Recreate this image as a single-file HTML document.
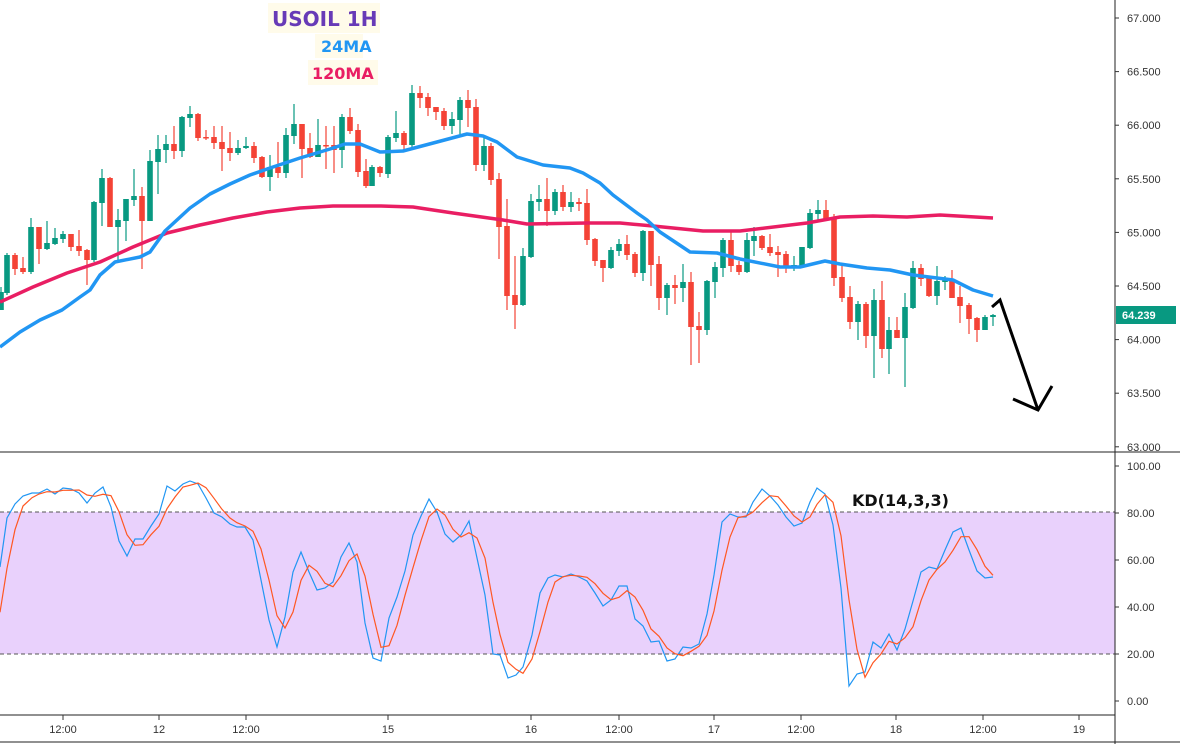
<!DOCTYPE html>
<html><head><meta charset="utf-8"><style>
body{margin:0;background:#fff;width:1180px;height:744px;overflow:hidden;font-family:"Liberation Sans",sans-serif}
svg{display:block}
</style></head><body>
<svg id="s" width="1180" height="744" xmlns="http://www.w3.org/2000/svg" font-family="Liberation Sans, sans-serif">
<rect x="0" y="512" width="1115" height="142" fill="#e9d1fc"/>
<line x1="0" y1="512" x2="1115" y2="512" stroke="#555" stroke-dasharray="4,3"/>
<line x1="0" y1="654" x2="1115" y2="654" stroke="#555" stroke-dasharray="4,3"/>
<g id="c"></g>
<polyline fill="none" stroke="#e91e63" stroke-width="3.5" stroke-linejoin="round" points="0,302 33,287 67,273 100,262 133,247 167,233 200,225 233,218 267,212 300,208 333,206 380,206 413,207 453,213 503,220 527,224 587,223 620,223 653,226 703,231 740,231 807,223 840,217 873,216 907,217 940,215 993,218"/>
<polyline fill="none" stroke="#2196f3" stroke-width="3.5" stroke-linejoin="round" points="0,347 20,332 40,320 62,310 80,297 90,290 100,275 115,262 140,257 150,252 165,231 190,208 210,194 230,184 250,175 270,168 300,158 330,149 345,144 360,144 370,148 380,152 403,151 437,142 467,134 483,136 497,142 517,157 543,165 570,168 583,173 600,183 613,195 637,213 647,220 660,232 690,252 717,253 740,259 780,267 800,267 825,261 840,264 867,268 890,270 913,275 953,280 973,290 993,296"/>
<polyline id="k" fill="none" stroke="#2196f3" stroke-width="1.2"/>
<polyline id="d" fill="none" stroke="#ff5722" stroke-width="1.2"/>
<polyline fill="none" stroke="#000" stroke-width="3" points="992,307 1000,300 1038,410"/>
<polyline fill="none" stroke="#000" stroke-width="3" points="1013,399 1038,410 1052,386"/>
<rect x="268" y="3" width="112" height="30" fill="#fffbea"/>
<rect x="315" y="34" width="48" height="24" fill="#fffbea"/>
<rect x="308" y="60" width="70" height="25" fill="#fffbea"/>
<text x="272" y="26" font-family="DejaVu Sans, sans-serif" font-size="20" font-weight="bold" fill="#673ab7">USOIL 1H</text>
<text x="321" y="52" font-family="DejaVu Sans, sans-serif" font-size="16" font-weight="bold" fill="#2196f3">24MA</text>
<text x="312" y="79" font-family="DejaVu Sans, sans-serif" font-size="16" font-weight="bold" fill="#e91e63">120MA</text>
<text x="852" y="506" font-family="DejaVu Sans, sans-serif" font-size="16" font-weight="bold" fill="#111">KD(14,3,3)</text>
<line x1="1115" y1="0" x2="1115" y2="744" stroke="#222"/>
<line x1="0" y1="452" x2="1180" y2="452" stroke="#222"/>
<line x1="0" y1="715" x2="1115" y2="715" stroke="#222"/>
<line x1="0" y1="742" x2="1180" y2="742" stroke="#222"/>
<g id="ax" font-size="11" fill="#333"></g>
<rect x="1116" y="306" width="60" height="18" fill="#089981"/>
<text x="1122" y="319" font-size="11" font-weight="bold" fill="#fff">64.239</text>
</svg>
<script>
var C=[[1,292,310,287,310,'g'],[7,255,293,253,295,'g'],[15,255,269,253,275,'r'],[23,268,272,257,274,'r'],[31,227,272,218,274,'g'],[39,227,249,227,264,'r'],[47,243,249,221,250,'g'],[55,238,244,228,245,'g'],[63,234,239,231,243,'g'],[71,234,247,234,251,'r'],[79,246,251,230,256,'r'],[87,250,260,249,285,'r'],[94,202,260,201,262,'g'],[102,178,203,169,226,'g'],[110,178,227,177,227,'r'],[118,220,227,209,261,'g'],[126,199,221,199,241,'g'],[134,196,200,169,206,'g'],[142,196,221,187,269,'r'],[150,161,221,150,221,'g'],[158,149,162,135,194,'g'],[166,144,150,135,163,'g'],[174,144,151,126,159,'r'],[182,117,151,116,157,'g'],[190,114,118,106,127,'g'],[198,114,138,113,141,'r'],[206,137,138,130,140,'r'],[214,137,143,126,149,'r'],[222,142,149,126,171,'r'],[230,148,153,132,161,'r'],[238,148,153,140,155,'g'],[246,146,148,137,149,'g'],[254,146,158,142,163,'r'],[262,157,177,156,178,'r'],[270,167,177,155,191,'g'],[278,167,173,142,178,'r'],[286,135,173,128,178,'g'],[294,124,136,104,144,'g'],[302,124,149,124,178,'r'],[310,148,157,133,158,'r'],[318,145,157,119,157,'g'],[326,145,146,126,169,'r'],[334,145,150,126,173,'r'],[342,117,150,114,168,'g'],[350,117,131,108,134,'r'],[358,130,172,124,177,'r'],[366,171,186,159,188,'r'],[372,167,186,165,186,'g'],[380,167,173,166,177,'r'],[388,137,174,135,178,'g'],[396,133,138,111,142,'g'],[404,133,145,131,150,'r'],[412,93,145,85,147,'g'],[420,93,98,86,108,'r'],[428,97,108,93,116,'r'],[436,107,112,107,120,'r'],[444,111,126,108,130,'r'],[452,119,126,112,134,'g'],[460,100,120,97,135,'g'],[468,100,108,90,127,'r'],[476,107,165,99,171,'r'],[484,146,165,135,171,'g'],[491,146,180,143,185,'r'],[499,179,227,173,259,'r'],[507,226,296,199,310,'r'],[515,295,305,256,329,'r'],[523,256,305,248,306,'g'],[531,201,257,194,258,'g'],[539,199,202,185,211,'g'],[547,199,211,178,226,'r'],[555,192,211,189,215,'g'],[563,192,207,185,211,'r'],[571,202,207,192,212,'g'],[579,202,204,198,211,'r'],[587,203,240,189,245,'r'],[595,239,261,238,266,'r'],[603,260,268,260,282,'r'],[611,250,268,247,269,'g'],[619,244,251,239,256,'g'],[627,244,255,235,260,'r'],[635,254,273,252,277,'r'],[643,231,273,230,281,'g'],[651,231,265,231,286,'r'],[659,264,298,256,310,'r'],[667,285,298,283,315,'g'],[675,285,288,275,304,'r'],[683,282,288,264,302,'g'],[691,282,327,272,365,'r'],[699,326,330,312,363,'r'],[707,281,330,280,335,'g'],[715,267,282,262,298,'g'],[723,240,268,238,277,'g'],[731,240,266,230,272,'r'],[739,265,272,261,275,'r'],[747,240,272,233,273,'g'],[754,236,241,227,256,'g'],[762,236,248,235,250,'r'],[770,247,253,234,256,'r'],[778,252,255,246,277,'r'],[786,254,268,251,273,'r'],[794,265,268,256,271,'g'],[802,247,266,247,268,'g'],[810,213,248,209,249,'g'],[818,210,214,200,221,'g'],[826,210,219,200,221,'r'],[834,218,278,214,286,'r'],[842,277,298,263,302,'r'],[850,297,322,286,329,'r'],[858,304,322,301,340,'g'],[866,304,336,302,348,'r'],[874,300,336,289,378,'g'],[882,300,349,281,358,'r'],[889,330,349,317,374,'g'],[897,330,338,317,338,'r'],[905,307,338,293,387,'g'],[913,268,308,261,309,'g'],[921,268,279,264,286,'r'],[929,278,296,276,297,'r'],[937,281,296,266,305,'g'],[945,280,282,276,290,'g'],[952,281,298,270,298,'r'],[960,297,306,286,323,'r'],[969,305,319,303,334,'r'],[977,318,330,317,342,'r'],[985,317,330,315,330,'g'],[993,315,317,314,326,'g']];
var h='';C.forEach(function(c){var col=c[5]=='g'?'#089981':'#f44336';h+='<line x1="'+c[0]+'" y1="'+c[3]+'" x2="'+c[0]+'" y2="'+c[4]+'" stroke="'+col+'" stroke-width="1.2"/><rect x="'+(c[0]-2.8)+'" y="'+c[1]+'" width="5.6" height="'+Math.max(1.5,c[2]-c[1])+'" fill="'+col+'"/>';});
document.getElementById('c').innerHTML=h;
var K=[[0,567],[7,518],[15,504],[23,496],[32,493],[39,493],[47,489],[55,494],[63,488],[71,489],[79,493],[87,503],[95,493],[103,487],[111,507],[119,541],[127,556],[135,539],[143,539],[151,526],[159,514],[167,486],[175,491],[183,484],[190,481],[198,484],[206,498],[214,513],[222,517],[230,524],[237,527],[245,527],[253,540],[261,580],[269,620],[277,647],[285,617],[293,572],[301,552],[309,572],[317,590],[325,588],[333,582],[341,557],[349,543],[357,562],[365,623],[373,658],[381,661],[389,618],[397,597],[405,571],[413,535],[421,516],[429,499],[437,512],[445,534],[453,542],[461,535],[469,521],[477,558],[485,595],[493,654],[500,655],[508,678],[516,675],[523,667],[532,635],[540,593],[548,578],[555,575],[563,577],[571,574],[579,577],[587,581],[595,593],[603,606],[611,600],[619,586],[627,586],[635,619],[643,626],[651,642],[659,641],[667,661],[675,659],[683,647],[691,648],[699,644],[707,614],[714,575],[722,522],[730,514],[738,517],[746,517],[753,502],[762,489],[770,496],[778,505],[786,517],[794,526],[802,523],[810,502],[817,488],[825,494],[833,525],[841,588],[849,686],[857,674],[865,672],[873,642],[881,648],[889,634],[897,650],[905,629],[913,601],[921,572],[929,567],[937,569],[945,550],[953,532],[961,528],[969,550],[977,571],[985,578],[993,577]];
document.getElementById('k').setAttribute('points',K.map(function(p){return p.join(',')}).join(' '));
var D=[];for(var i=0;i<K.length;i++){var a=K[Math.max(0,i-1)][1],b=K[Math.max(0,i-2)][1];if(i==0){a=620;b=650}if(i==1){b=620}D.push(K[i][0]+','+((K[i][1]+a+b)/3).toFixed(1));}
document.getElementById('d').setAttribute('points',D.join(' '));
var ax='';
[[67,'67.000'],[66.5,'66.500'],[66,'66.000'],[65.5,'65.500'],[65,'65.000'],[64.5,'64.500'],[64,'64.000'],[63.5,'63.500'],[63,'63.000']].forEach(function(p){var y=18+(67-p[0])*107.2;ax+='<line x1="1115" y1="'+y+'" x2="1119" y2="'+y+'" stroke="#333"/><text x="1127" y="'+(y+4)+'">'+p[1]+'</text>';});
[[100,'100.00'],[80,'80.00'],[60,'60.00'],[40,'40.00'],[20,'20.00'],[0,'0.00']].forEach(function(p){var y=701-p[0]*2.35;ax+='<line x1="1115" y1="'+y+'" x2="1119" y2="'+y+'" stroke="#333"/><text x="1127" y="'+(y+4)+'">'+p[1]+'</text>';});
[[63,'12:00'],[159,'12'],[246,'12:00'],[388,'15'],[531,'16'],[619,'12:00'],[714,'17'],[801,'12:00'],[896,'18'],[983,'12:00'],[1079,'19']].forEach(function(p){ax+='<line x1="'+p[0]+'" y1="715" x2="'+p[0]+'" y2="720" stroke="#333"/><text x="'+p[0]+'" y="733" text-anchor="middle">'+p[1]+'</text>';});
document.getElementById('ax').innerHTML=ax;
</script>
</body></html>
